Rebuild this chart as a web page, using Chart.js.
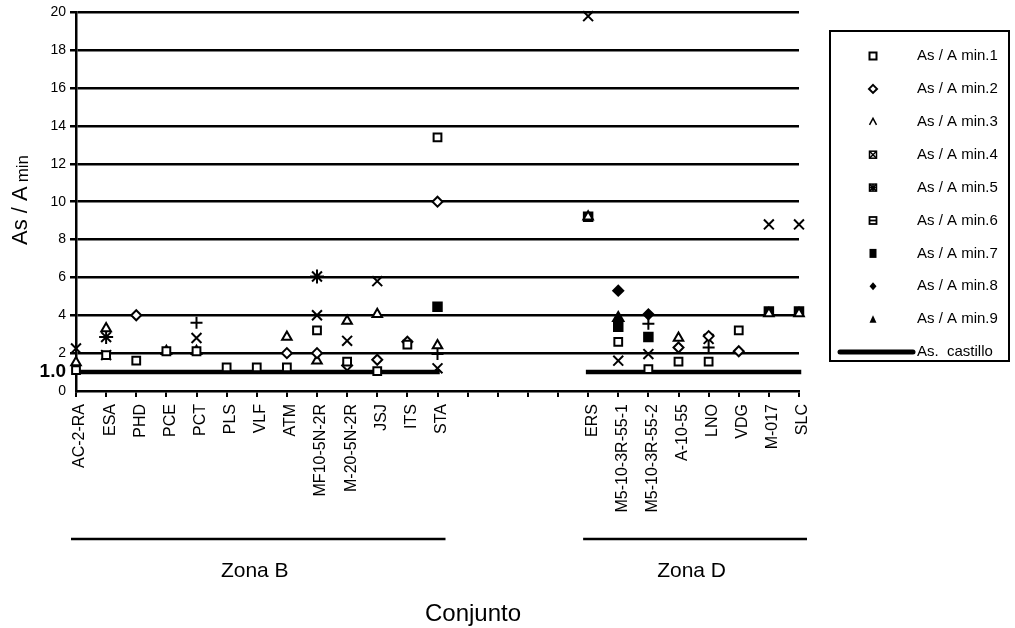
<!DOCTYPE html>
<html><head><meta charset="utf-8">
<script src="https://cdn.jsdelivr.net/npm/chart.js@4/dist/chart.umd.min.js"></script>
<style>html,body{margin:0;padding:0;background:#fff}#wrap{width:1015px;height:628px;position:relative}</style>
</head><body><div id="wrap"><canvas id="c" width="1015" height="628"></canvas></div>
<script>
const N = null;
const categories = ["AC-2-RA","ESA","PHD","PCE","PCT","PLS","VLF","ATM","MF10-5N-2R","M-20-5N-2R","JSJ","ITS","STA","","","","","ERS","M5-10-3R-55-1","M5-10-3R-55-2","A-10-55","LNO","VDG","M-017","SLC"];
const yTickValues = [0,1,2,4,6,8,10,12,14,16,18,20];
const seriesNames = ["As / A min.1","As / A min.2","As / A min.3","As / A min.4","As / A min.5","As / A min.6","As / A min.7","As / A min.8","As / A min.9","As.  castillo"];
const asAmin1 = [1.1,1.9,1.6,2.1,2.1,1.25,1.25,1.25,3.2,1.55,1.05,2.45,13.4,N,N,N,N,N,2.6,1.15,1.55,1.55,3.2,N,N];
const asAmin2 = [N,N,4.0,N,N,N,N,2.0,2.0,1.35,1.65,2.6,10.0,N,N,N,N,N,N,N,2.3,2.9,2.1,N,N];
const asAmin3 = [1.5,3.3,N,2.1,2.1,N,N,2.85,1.6,3.7,4.05,N,2.4,N,N,N,N,9.2,N,N,2.8,N,N,4.1,4.1];
const asAmin4 = [2.25,1.9,N,N,2.8,N,N,N,4.0,2.65,5.8,N,1.2,N,N,N,N,19.8,1.6,1.95,N,2.75,N,8.8,8.8];
const asAmin5 = [N,2.85,N,N,N,N,N,N,6.05,N,N,N,N,N,N,N,N,N,N,N,N,N,N,N,N];
const asAmin6 = [N,N,N,N,3.6,N,N,N,N,N,N,N,1.95,N,N,N,N,N,N,3.55,N,2.3,N,N,N];
const asAmin7 = [N,N,N,N,N,N,N,N,N,N,N,N,4.45,N,N,N,N,9.2,3.4,2.85,N,N,N,4.2,4.2];
const asAmin8 = [N,N,N,N,N,N,N,N,N,N,N,N,N,N,N,N,N,N,5.3,4.05,N,N,N,N,N];
const asAmin9 = [N,N,N,N,N,N,N,N,N,N,N,N,N,N,N,N,N,N,3.85,N,N,N,N,N,N];
const castillo = [1,1,1,1,1,1,1,1,1,1,1,1,1,N,N,N,N,1,1,1,1,1,1,1,1];
const zoneLabels = ["Zona B","Zona D"];
const zoneFrom = [0,17];
const zoneTo = [12,24];

const FONT = '"Liberation Sans", Arial, sans-serif';
Chart.defaults.font.family = FONT;
Chart.defaults.color = '#000';

function pt(label, data, style, radius, fill, legendMarker){
  return {label, data, showLine:false, pointStyle:style, pointRadius:radius, pointHoverRadius:radius,
    pointBackgroundColor:fill, pointBorderColor:'#000', pointBorderWidth:2,
    borderColor:'#000', backgroundColor:fill, clip:false, legendMarker};
}
const datasets = [
  pt(seriesNames[0], asAmin1, 'rect', 5.5, '#fff', 'sq'),
  pt(seriesNames[1], asAmin2, 'rectRot', 5, '#fff', 'dia'),
  pt(seriesNames[2], asAmin3, 'triangle', 5.5, '#fff', 'caret'),
  pt(seriesNames[3], asAmin4, 'crossRot', 7, '#fff', 'boxx'),
  pt(seriesNames[4], asAmin5, 'star', 7, '#fff', 'boxstar'),
  pt(seriesNames[5], asAmin6, 'cross', 6, '#fff', 'boxh'),
  pt(seriesNames[6], asAmin7, 'rect', 6, '#000', 'fsq'),
  pt(seriesNames[7], asAmin8, 'rectRot', 5, '#000', 'fdia'),
  pt(seriesNames[8], asAmin9, 'triangle', 6, '#000', 'ftri'),
  {label:seriesNames[9], data:castillo, borderColor:'#000', borderWidth:4.5, pointRadius:0, pointHoverRadius:0,
   spanGaps:false, fill:false, tension:0, borderCapStyle:'square', clip:false, legendMarker:'line'}
];

function drawLegendMarker(ctx, kind, x, y){
  ctx.save();
  ctx.strokeStyle='#000'; ctx.fillStyle='#000'; ctx.lineWidth=2;
  const s=3.5;
  if(kind==='sq'){ ctx.fillStyle='#fff'; ctx.fillRect(x-s,y-s,2*s,2*s); ctx.strokeRect(x-s,y-s,2*s,2*s); }
  else if(kind==='dia'){ ctx.beginPath(); ctx.moveTo(x,y-4); ctx.lineTo(x+4,y); ctx.lineTo(x,y+4); ctx.lineTo(x-4,y); ctx.closePath(); ctx.fillStyle='#fff'; ctx.fill(); ctx.stroke(); }
  else if(kind==='caret'){ ctx.lineWidth=1.5; ctx.beginPath(); ctx.moveTo(x-3.5,y+3); ctx.lineTo(x,y-3.5); ctx.lineTo(x+3.5,y+3); ctx.stroke(); }
  else if(kind==='boxx' || kind==='boxstar'){ ctx.lineWidth=1.5; ctx.strokeRect(x-s,y-s,2*s,2*s); ctx.beginPath(); ctx.moveTo(x-s,y-s); ctx.lineTo(x+s,y+s); ctx.moveTo(x+s,y-s); ctx.lineTo(x-s,y+s);
    if(kind==='boxstar'){ ctx.moveTo(x,y-s); ctx.lineTo(x,y+s); ctx.moveTo(x-s,y); ctx.lineTo(x+s,y); }
    ctx.stroke(); }
  else if(kind==='boxh'){ ctx.lineWidth=1.8; ctx.strokeRect(x-s,y-s,2*s,2*s); ctx.beginPath(); ctx.moveTo(x-s,y); ctx.lineTo(x+s,y); ctx.stroke(); }
  else if(kind==='fsq'){ ctx.fillRect(x-3.5,y-4.5,7,9); }
  else if(kind==='fdia'){ ctx.beginPath(); ctx.moveTo(x,y-4); ctx.lineTo(x+3.5,y); ctx.lineTo(x,y+4); ctx.lineTo(x-3.5,y); ctx.closePath(); ctx.fill(); }
  else if(kind==='ftri'){ ctx.beginPath(); ctx.moveTo(x,y-4); ctx.lineTo(x+3.5,y+3.5); ctx.lineTo(x-3.5,y+3.5); ctx.closePath(); ctx.fill(); }
  else if(kind==='line'){ ctx.lineWidth=5; ctx.lineCap='round'; ctx.beginPath(); ctx.moveTo(x-33,y); ctx.lineTo(x+40,y); ctx.stroke(); }
  ctx.restore();
}

const decorPlugin = {
  id:'decor',
  afterDraw(chart){
    const ctx = chart.ctx, xs = chart.scales.x, area = chart.chartArea;
    ctx.save();
    // legend box
    ctx.strokeStyle='#000'; ctx.lineWidth=2;
    ctx.strokeRect(830,31,179,330);
    const mx=873, tx=917, y0=56, dy=32.9;
    chart.data.datasets.forEach((ds,i)=>{
      const y = y0 + dy*i;
      drawLegendMarker(ctx, ds.legendMarker, mx, y);
      ctx.fillStyle='#000'; ctx.font='15px '+FONT; ctx.textBaseline='middle'; ctx.textAlign='left';
      ctx.fillText(ds.label, tx, y);
    });
    // zone lines and labels
    const zy = area.bottom + 148;
    zoneLabels.forEach((lab,i)=>{
      const a = xs.getPixelForValue(zoneFrom[i]), b = xs.getPixelForValue(zoneTo[i]);
      ctx.strokeStyle='#000'; ctx.lineWidth=2.5;
      ctx.beginPath(); ctx.moveTo(a-5, zy); ctx.lineTo(b+8, zy); ctx.stroke();
      ctx.fillStyle='#000'; ctx.font='21px '+FONT; ctx.textAlign='center'; ctx.textBaseline='middle';
      ctx.fillText(lab, (a+b)/2 - 2, zy + 32);
    });
    // x title
    ctx.font='24px '+FONT; ctx.textAlign='center'; ctx.textBaseline='middle';
    ctx.fillText('Conjunto', 473, 614);
    // y title with subscript
    ctx.translate(27, 200);
    ctx.rotate(-Math.PI/2);
    ctx.textAlign='left'; ctx.textBaseline='alphabetic';
    ctx.font='22px '+FONT; const w1 = ctx.measureText('As / A').width;
    ctx.font='17px '+FONT; const w2 = ctx.measureText('min').width;
    const gap = 4;
    const start = -(w1+gap+w2)/2;
    ctx.font='22px '+FONT; ctx.fillText('As / A', start, 0);
    ctx.font='17px '+FONT; ctx.fillText('min', start + w1 + gap, 1);
    ctx.restore();
  }
};

new Chart(document.getElementById('c'), {
  type:'line',
  data:{ labels: categories, datasets },
  plugins:[decorPlugin],
  options:{
    responsive:false, animation:false,
    layout:{ padding:{ left:0, top:12, right:216, bottom:0 } },
    plugins:{ legend:{display:false}, tooltip:{enabled:false}, title:{display:false} },
    scales:{
      x:{
        type:'category', offset:false,
        grid:{ drawOnChartArea:false, drawTicks:true, tickLength:6, color:'#000', lineWidth:2 },
        border:{ display:true, color:'#000', width:2.5 },
        ticks:{ autoSkip:false, maxRotation:90, minRotation:90, labelOffset:4, padding:7, font:{size:16}, color:'#000' },
        afterFit(axis){ axis.height = 237; }
      },
      y:{
        min:0, max:20,
        afterBuildTicks(axis){ axis.ticks = yTickValues.map(v=>({value:v})); },
        grid:{ drawTicks:true, tickLength:6, lineWidth:2.5,
          color:(c)=> (c.tick && (c.tick.value===1 || c.tick.value===0)) ? 'rgba(0,0,0,0)' : '#000' },
        border:{ display:true, color:'#000', width:2.5 },
        ticks:{ padding:4, color:'#000', autoSkip:false,
          callback:(v)=> v===1 ? '1.0' : String(v),
          font:(c)=> (c.tick && c.tick.value===1) ? {size:19, weight:'bold'} : {size:14} },
        afterFit(axis){ axis.width = 76; }
      }
    }
  }
});
</script></body></html>
